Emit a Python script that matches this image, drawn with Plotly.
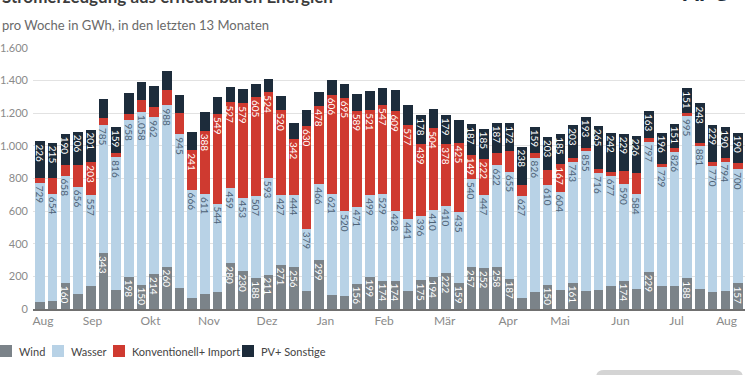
import plotly.graph_objects as go

# ---------------- data ----------------
weeks = list(range(56))

wind = [45, 52, 160, 93, 139, 343, 114, 198, 150, 214, 260, 126, 66, 94, 102, 280,
        230, 188, 211, 271, 256, 113, 299, 87, 80, 156, 199, 174, 174, 109, 175, 194,
        222, 159, 257, 252, 258, 187, 68, 102, 150, 116, 161, 112, 116, 140, 174, 120,
        229, 142, 138, 188, 120, 106, 110, 157]

wasser = [729, 654, 658, 656, 557, 785, 816, 958, 1058, 962, 988, 945, 666, 611, 544,
          459, 453, 507, 593, 427, 444, 379, 466, 621, 520, 471, 499, 529, 428, 441,
          396, 410, 410, 435, 540, 447, 622, 655, 627, 826, 610, 604, 743, 855, 716,
          677, 590, 584, 797, 729, 826, 995, 881, 770, 794, 700]

konv_import = [27, 98, 67, 131, 203, 41, 27, 37, 71, 62, 94, 133, 241, 388, 549, 527,
               579, 605, 524, 520, 342, 630, 478, 606, 695, 589, 521, 547, 609, 577,
               439, 504, 378, 425, 149, 222, 75, 125, 63, 31, 92, 167, 20, 18, 25, 23,
               82, 132, 25, 15, 22, 20, 16, 25, 20, 35]

pv_sonstige = [226, 215, 190, 206, 201, 116, 159, 133, 114, 129, 116, 106, 110, 112,
               102, 98, 88, 82, 82, 88, 100, 98, 88, 90, 86, 102, 118, 102, 133, 126,
               178, 116, 179, 139, 187, 185, 187, 172, 238, 159, 203, 185, 203, 193,
               265, 242, 229, 226, 163, 196, 151, 151, 243, 229, 190, 190]

series_names = ["Wind", "Wasser", "Konventionell+ Import", "PV+ Sonstige"]

month_labels = ["Aug", "Sep", "Okt", "Nov", "Dez", "Jan", "Feb", "Mär", "Apr",
                "Mai", "Jun", "Jul", "Aug"]
month_positions = [0.24, 4.14, 8.71, 13.32, 17.89, 22.5, 27.11, 31.88, 36.88,
                   40.98, 45.74, 50.16, 54.1]

y_ticks = [0, 200, 400, 600, 800, 1000, 1200, 1400, 1600]

title_text = "Stromerzeugung aus erneuerbaren Energien"
subtitle_text = "pro Woche in GWh, in den letzten 13 Monaten"

# ---------------- style ----------------
colors = ["#7b8389", "#b8d2e6", "#cf3a30", "#1d2c3b"]
text_colors = ["#ffffff", "#4d6276", "#ffffff", "#ffffff"]
FONT = "Lato"
LABEL_MIN = 145

W, H = 750, 375
L, R, T, B = 33, 5, 48, 66
PW, PH = W - L - R, H - T - B


def px_x(px):
    return (px - L) / PW


def px_y(py):
    return (H - B - py) / PH


def fmt(v):
    return f"{v:,}".replace(",", ".")


fig = go.Figure()
for name, vals, col, tcol in zip(series_names, [wind, wasser, konv_import, pv_sonstige],
                                 colors, text_colors):
    fig.add_trace(go.Bar(
        x=weeks, y=vals, name=name,
        marker=dict(color=col, line=dict(width=0)),
        text=[fmt(v) if v >= LABEL_MIN else "" for v in vals],
        textposition="inside", insidetextanchor="end", textangle=90,
        constraintext="none",
        textfont=dict(family=FONT, size=10, color=tcol),
        hoverinfo="skip", showlegend=False,
    ))

shapes = []
annotations = []

# title / subtitle
annotations.append(dict(text=f"<b>{title_text}</b>", xref="paper", yref="paper",
                        x=px_x(0), y=px_y(9), xanchor="left", yanchor="bottom",
                        showarrow=False, font=dict(family=FONT, size=17, color="#3c3c3c")))
annotations.append(dict(text=subtitle_text, xref="paper", yref="paper",
                        x=px_x(0), y=px_y(25), xanchor="left", yanchor="middle",
                        showarrow=False, font=dict(family=FONT, size=13, color="#6a6a6a")))
# logo text
annotations.append(dict(text="<b><i>APG</i></b>", xref="paper", yref="paper",
                        x=px_x(706), y=px_y(8), xanchor="center", yanchor="bottom",
                        showarrow=False, font=dict(family=FONT, size=24, color="#1d2c3b")))

# custom legend
leg_sq = [0, 52, 113, 242]
leg_y = 351
for name, col, sx in zip(series_names, colors, leg_sq):
    shapes.append(dict(type="rect", xref="paper", yref="paper",
                       x0=px_x(sx), x1=px_x(sx + 12), y0=px_y(leg_y + 6), y1=px_y(leg_y - 6),
                       fillcolor=col, line=dict(width=0)))
    annotations.append(dict(text=name, xref="paper", yref="paper",
                            x=px_x(sx + 17), y=px_y(leg_y), xanchor="left", yanchor="middle",
                            showarrow=False, font=dict(family=FONT, size=11, color="#444444")))

# gray rounded button at bottom right
x0, x1, y0, y1 = px_x(596), px_x(743), px_y(380), px_y(370)
rx, ry = 8 / PW, 8 / PH
shapes.append(dict(type="path", xref="paper", yref="paper",
                   path=(f"M {x0},{y0} L {x0},{y1 - ry} Q {x0},{y1} {x0 + rx},{y1} "
                         f"L {x1 - rx},{y1} Q {x1},{y1} {x1},{y1 - ry} L {x1},{y0} Z"),
                   fillcolor="#d4d4d4", line=dict(width=0)))

fig.update_layout(
    width=W, height=H,
    margin=dict(l=L, r=R, t=T, b=B, autoexpand=False),
    barmode="stack", bargap=0.24,
    paper_bgcolor="white", plot_bgcolor="white",
    separators=",.",
    font=dict(family=FONT, color="#888888"),
    showlegend=False,
    shapes=shapes, annotations=annotations,
    xaxis=dict(range=[-0.55, 55.55], tickmode="array", tickvals=month_positions,
               ticktext=month_labels, showgrid=False, zeroline=False,
               showline=True, linecolor="#707070", linewidth=1.5,
               ticks="", tickfont=dict(family=FONT, size=12, color="#8a8a8a"),
               fixedrange=True),
    yaxis=dict(range=[0, 1600], tickmode="array", tickvals=y_ticks, tickformat=",d",
               showgrid=True, gridcolor="#e2e2e2", gridwidth=1, zeroline=False,
               showline=False, ticks="", ticklabelstandoff=4,
               tickfont=dict(family=FONT, size=11, color="#8a8a8a"), fixedrange=True),
)

fig.write_html("out.html", config={"displayModeBar": False},
               post_script="document.body.style.margin='0px';document.body.style.overflow='hidden';")
